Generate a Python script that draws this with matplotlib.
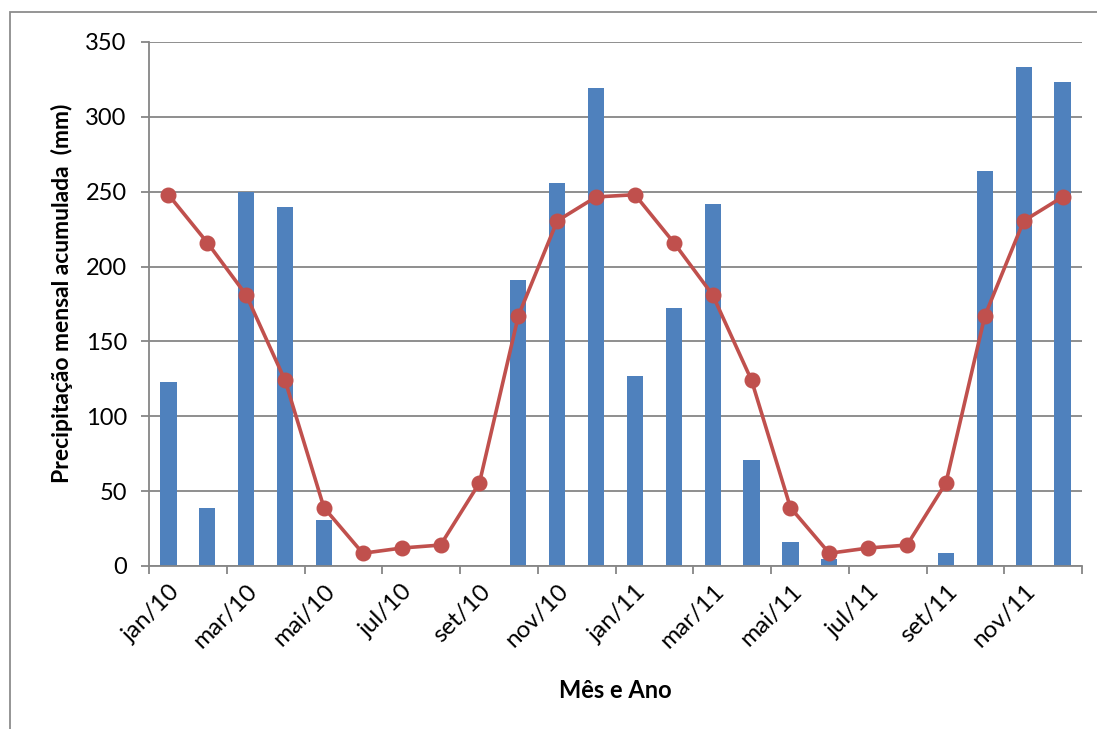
import matplotlib
matplotlib.use("Agg")
import matplotlib.pyplot as plt
from matplotlib.patches import Rectangle
import numpy as np

plt.rcParams['font.family'] = ['Lato', 'DejaVu Sans']

# meses jan/2010 a dez/2011
meses = ['jan/10', 'fev/10', 'mar/10', 'abr/10', 'mai/10', 'jun/10',
         'jul/10', 'ago/10', 'set/10', 'out/10', 'nov/10', 'dez/10',
         'jan/11', 'fev/11', 'mar/11', 'abr/11', 'mai/11', 'jun/11',
         'jul/11', 'ago/11', 'set/11', 'out/11', 'nov/11', 'dez/11']

# precipitacao mensal observada (mm)
precip = [123, 39, 250, 240, 31, 0, 0, 0, 0, 191, 256, 319,
          127, 172, 242, 71, 16, 5, 0, 0, 9, 264, 333, 323]

# normal climatologica (mm)
normal = [248, 216, 181, 124, 39, 8.5, 12, 14, 55.5, 167, 230.5, 246.5,
          248, 216, 181, 124, 39, 8.5, 12, 14, 55.5, 167, 230.5, 246.5]

azul = '#4F81BD'
vermelho = '#C0504D'
cinza = '#868686'

fig = plt.figure(figsize=(10.97, 7.29), dpi=100)
ax = fig.add_axes([149/1097, 1 - 566/729, (1082 - 149)/1097, (566 - 42)/729])

x = np.arange(len(meses))
ax.bar(x, precip, width=0.42, color=azul, zorder=2)
ax.plot(x, normal, color=vermelho, lw=2.6, marker='o', ms=10.5,
        markeredgecolor=vermelho, zorder=3)

ax.set_xlim(-0.5, len(meses) - 0.5)
ax.set_ylim(0, 350)
ax.set_yticks(np.arange(0, 351, 50))
ax.yaxis.grid(True, color=cinza, lw=1.3, zorder=0)
ax.set_axisbelow(True)

# marcas entre categorias, rotulos a cada dois meses
ax.set_xticks(np.arange(-0.5, len(meses), 2))
ax.set_xticklabels([])
ax.set_xticks(x[::2] + 0.2, minor=True)
ax.set_xticklabels(meses[::2], minor=True, rotation=45, ha='right',
                   va='center', rotation_mode='anchor', fontsize=17.5)
ax.tick_params(axis='x', which='minor', length=0, pad=16)
ax.tick_params(axis='x', which='major', length=6, width=1.3, color=cinza)
ax.tick_params(axis='y', length=6, width=1.3, color=cinza, labelsize=17, pad=10)

for s in ['top', 'right']:
    ax.spines[s].set_visible(False)
for s in ['left', 'bottom']:
    ax.spines[s].set_color(cinza)
    ax.spines[s].set_linewidth(1.3)

ax.set_ylabel('Precipitação mensal acumulada  (mm)', fontsize=16.5,
              fontweight='bold', va='center')
ax.yaxis.set_label_coords(62/1097, 1 - 293/729, transform=fig.transFigure)
ax.set_xlabel('Mês e Ano', fontsize=17, fontweight='bold', va='center')
ax.xaxis.set_label_coords(615/1097, 1 - 690/729, transform=fig.transFigure)

# moldura da area do grafico
fig.patches.append(Rectangle((9.5/1097, -0.1), 1.2, 1 - 12/729 + 0.1,
                             transform=fig.transFigure, fill=False,
                             edgecolor='#8C8C8C', lw=1.3))

fig.savefig('out.png', dpi=100)
